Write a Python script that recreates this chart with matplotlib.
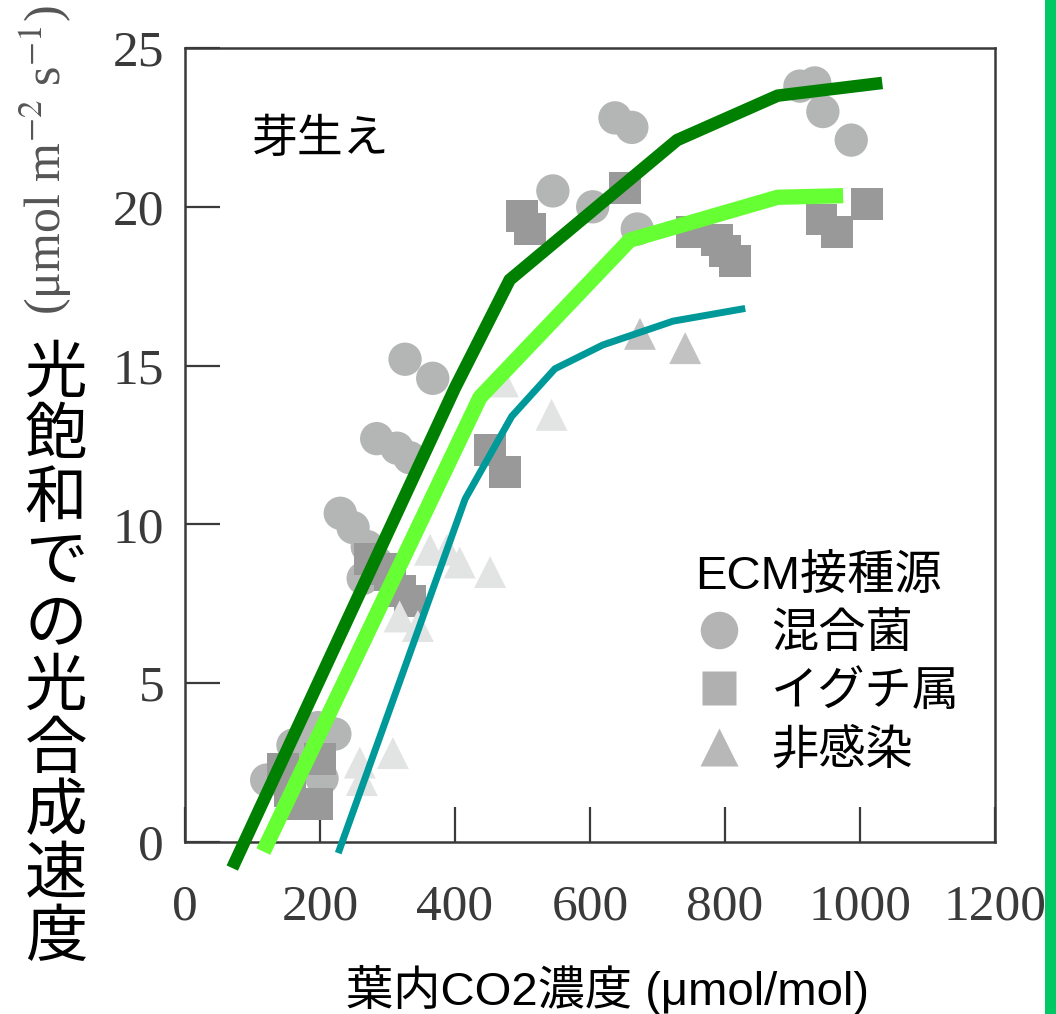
# -*- coding: utf8
'''
Light-saturated photosynthesis vs. intercellular CO2 for seedlings,
grouped by ECM inoculum (scanned points + fitted curves).
'''
import matplotlib
matplotlib.use('Agg')
from matplotlib import pyplot as plt
from matplotlib.lines import Line2D
from matplotlib.patches import Rectangle

plt.rcParams['mathtext.fontset'] = 'stix'

JP = ['Liberation Sans', 'Noto Sans CJK JP']
SERIF = 'Liberation Serif'

# ---- data ----
mix_x = [121, 160, 197, 222, 203, 230, 249, 270, 284, 264, 284, 314, 333,
         326, 367, 545, 604, 670, 637, 662, 911, 933, 945, 987]
mix_y = [1.95, 3.05, 3.6, 3.4, 2.0, 10.35, 9.9, 9.3, 8.8, 8.3, 12.7, 12.4,
         12.1, 15.2, 14.6, 20.5, 20.0, 19.3, 22.8, 22.5, 23.8, 23.9, 23.0, 22.1]

bol_x = [145, 175, 200, 155, 195, 274, 304, 318, 333, 290, 452, 474,
         499, 511, 652, 751, 788, 800, 815, 943, 966, 1010]
bol_y = [2.3, 1.2, 2.6, 1.6, 1.2, 8.9, 8.4, 7.9, 7.6, 8.6, 12.35, 11.65,
         19.7, 19.3, 20.6, 19.2, 18.95, 18.6, 18.3, 19.6, 19.2, 20.1]

non_x = [259, 308, 262, 363, 388, 407, 452, 318, 345, 471, 543]
non_y = [2.5, 2.8, 1.95, 9.2, 9.2, 8.8, 8.5, 7.1, 6.8, 14.5, 13.45]
non2_x = [674, 741]
non2_y = [16.0, 15.55]

dark_x = [70, 400, 481, 729, 878, 1033]
dark_y = [-0.82, 14.3, 17.7, 22.1, 23.5, 23.9]
light_x = [116, 437, 659, 878, 975]
light_y = [-0.3, 14.0, 18.95, 20.3, 20.35]
teal_x = [227, 415, 484, 548, 619, 723, 830]
teal_y = [-0.35, 10.8, 13.4, 14.9, 15.65, 16.4, 16.8]

xticks = [0, 200, 400, 600, 800, 1000, 1200]
yticks = [0, 5, 10, 15, 20, 25]
legend_labels = ['混合菌', 'イグチ属', '非感染']


def main():
    fig = plt.figure(figsize=(10.56, 10.14), dpi=100)
    ax = fig.add_axes([185 / 1056, 172 / 1014, 810 / 1056, 794 / 1014])

    ax.scatter(mix_x, mix_y, s=24 ** 2, marker='o', color='#b4b6b5',
               edgecolors='none', zorder=2)
    ax.scatter(bol_x, bol_y, s=23 ** 2, marker='s', color='#999999',
               edgecolors='none', zorder=2)
    ax.scatter(non_x, non_y, s=23 ** 2, marker='^', color='#e2e4e3',
               edgecolors='none', zorder=2)
    ax.scatter(non2_x, non2_y, s=23 ** 2, marker='^', color='#c2c2c2',
               edgecolors='none', zorder=2)

    ax.plot(dark_x, dark_y, color='#008000', lw=9, solid_capstyle='butt',
            clip_on=False, zorder=4)
    ax.plot(light_x, light_y, color='#66ff33', lw=11, solid_capstyle='butt',
            clip_on=False, zorder=4)
    ax.plot(teal_x, teal_y, color='#009999', lw=5, solid_capstyle='butt',
            clip_on=False, zorder=4)

    ax.set_xlim(0, 1200)
    ax.set_ylim(0, 25)
    ax.set_xticks(xticks)
    ax.set_yticks(yticks)
    for s in ax.spines.values():
        s.set_color('#3a3a3a')
        s.set_linewidth(1.8)
    ax.tick_params(direction='in', length=25, width=1.6, color='#3a3a3a',
                   labelsize=37, labelcolor='#3a3a3a')
    ax.tick_params(axis='x', pad=30)
    ax.tick_params(axis='y', pad=15)
    for lab in ax.get_xticklabels() + ax.get_yticklabels():
        lab.set_fontfamily(SERIF)

    ax.text(201, 22.1, '芽生え', family=JP, fontsize=33,
            ha='center', va='center')

    handles = [
        Line2D([], [], ls='none', marker='o', ms=27, color='#b4b4b4', mec='none'),
        Line2D([], [], ls='none', marker='s', ms=25, color='#b0b0b0', mec='none'),
        Line2D([], [], ls='none', marker='^', ms=28, color='#b8b8b8', mec='none'),
    ]
    leg = ax.legend(handles, legend_labels, title='ECM接種源',
                    loc='upper left', bbox_to_anchor=(0.63, 0.362),
                    frameon=False, alignment='left', handlelength=1.0,
                    handletextpad=0.6, labelspacing=0.30, borderpad=0,
                    borderaxespad=0,
                    prop={'family': JP, 'size': 34},
                    title_fontproperties={'family': JP, 'size': 34})
    leg._legend_box.sep = 10

    ax.set_xlabel('葉内CO2濃度 (μmol/mol)', family=JP, fontsize=34,
                  va='center')
    ax.xaxis.set_label_coords(0.521, -0.186)

    fig.text(0.043, 0.842, r'(μmol m$^{-2}$ s$^{-1}$)', family=SERIF,
             fontsize=36, color='#555555', rotation=90,
             ha='center', va='center')
    fig.text(0.053, 0.352, '\n'.join('光飽和での光合成速度'), family=JP,
             fontsize=45, ha='center', va='center', linespacing=1.08)

    fig.add_artist(Rectangle((1045 / 1056, 0), 11 / 1056, 1,
                             transform=fig.transFigure, color='#00c864',
                             lw=0))

    fig.savefig('out.png', dpi=100)


if __name__ == '__main__':
    main()
